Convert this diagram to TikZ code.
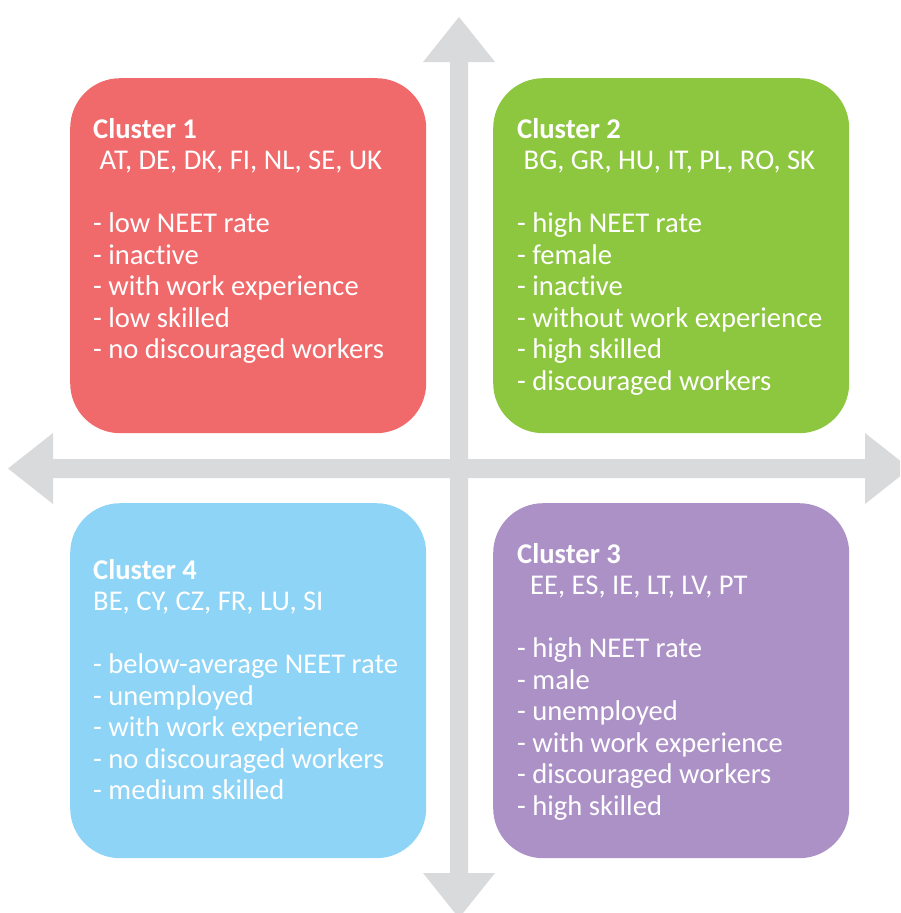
\documentclass[tikz,border=0pt]{standalone}
\usepackage{fontspec}
\setmainfont[Ligatures=NoCommon]{Carlito}
\usetikzlibrary{positioning}

\definecolor{axisGray}{HTML}{D9DADB}
\definecolor{clRed}{HTML}{F0696B}
\definecolor{clGreen}{HTML}{8DC63F}
\definecolor{clBlue}{HTML}{8DD4F6}
\definecolor{clPurple}{HTML}{AC91C6}

\begin{document}
\begin{tikzpicture}[x=1pt,y=-1pt]
	\tikzstyle{Axis}	= [fill=axisGray]
	\tikzstyle{Cluster}	= [rectangle, rounded corners=50pt, minimum width=356pt, minimum height=355pt, inner sep=0pt, anchor=north west]
	\tikzstyle{Label}	= [anchor=north west, align=left, inner sep=0pt, text=white, font=\fontsize{28.6}{31.5}\selectfont]

	\useasboundingbox (0,0) rectangle (900,913);
	\clip (0,0) rectangle (900,913);

	\fill[Axis] (459,17) -- (495,62) -- (468,62) -- (468,873) -- (495,873) -- (459,918)
		-- (423,873) -- (450,873) -- (450,62) -- (423,62) -- cycle;
	\fill[Axis] (8,468.5) -- (53,433) -- (53,459) -- (865,459) -- (865,433) -- (910,468.5)
		-- (865,504) -- (865,478) -- (53,478) -- (53,504) -- cycle;

	\node (c1) at (70,78) [Cluster, fill=clRed] {};
	\node (c2) at (493,78) [Cluster, fill=clGreen] {};
	\node (c4) at (70,503) [Cluster, fill=clBlue] {};
	\node (c3) at (493,503) [Cluster, fill=clPurple] {};

	\node (t1) at (c1.north west) [Label, xshift=23pt, yshift=-40pt]
		{\textbf{Cluster 1}\\ \hspace*{6.5pt}AT, DE, DK, FI, NL, SE, UK\\[31.5pt]
		- low NEET rate\\ - inactive\\ - with work experience\\ - low skilled\\ - no discouraged workers};
	\node (t2) at (c2.north west) [Label, xshift=24pt, yshift=-40pt]
		{\textbf{Cluster 2}\\ \hspace*{6.5pt}BG, GR, HU, IT, PL, RO, SK\\[31.5pt]
		- high NEET rate\\ - female\\ - inactive\\ - without work experience\\ - high skilled\\ - discouraged workers};
	\node (t4) at (c4.north west) [Label, xshift=23pt, yshift=-56pt]
		{\textbf{Cluster 4}\\ BE, CY, CZ, FR, LU, SI\\[31.5pt]
		- below-average NEET rate\\ - unemployed\\ - with work experience\\ - no discouraged workers\\ - medium skilled};
	\node (t3) at (c3.north west) [Label, xshift=24pt, yshift=-40pt]
		{\textbf{Cluster 3}\\ \hspace*{13pt}EE, ES, IE, LT, LV, PT\\[31.5pt]
		- high NEET rate\\ - male\\ - unemployed\\ - with work experience\\ - discouraged workers\\ - high skilled};
\end{tikzpicture}
\end{document}
